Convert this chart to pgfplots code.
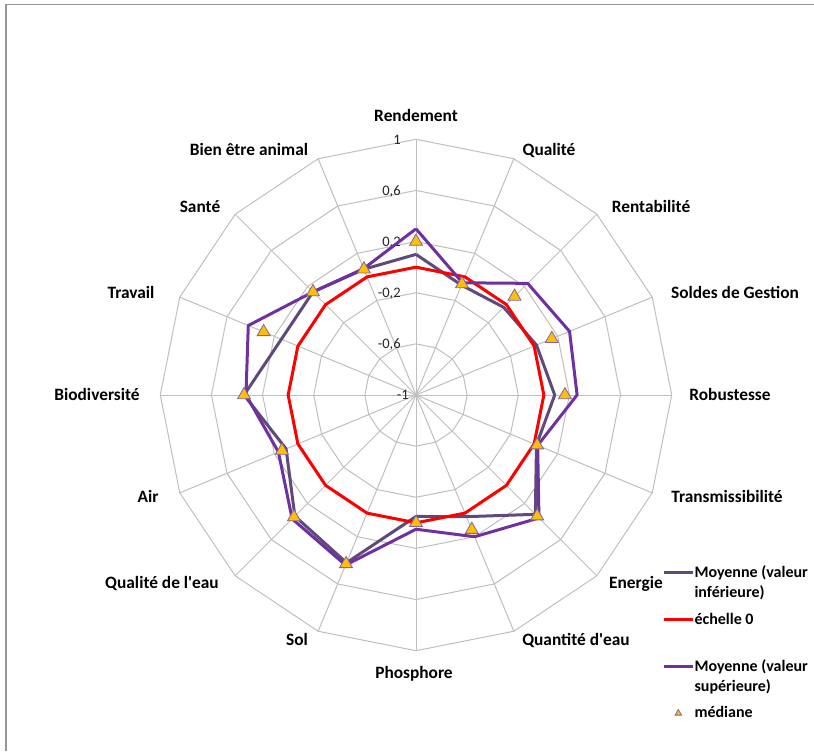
\documentclass[border=0pt]{standalone}
\usepackage{pgfplots}
\pgfplotsset{compat=1.18}
\usepackage{pgfplotstable}
\usepackage{fontspec}
\setmainfont{Carlito}
\definecolor{infc}{HTML}{604A7B}
\definecolor{supc}{HTML}{7030A0}
\definecolor{medf}{HTML}{FFC000}
\definecolor{mede}{HTML}{8064A2}
\definecolor{gridc}{HTML}{BFBFBF}
\definecolor{framec}{HTML}{969696}

\pgfplotsset{
  lineleg/.style={legend image code/.code={\draw[##1] (0pt,7.5pt) -- (21.75pt,7.5pt);}},
  medleg/.style={legend image code/.code={\draw[##1, mark size=2.8pt] plot coordinates {(10.9pt,0pt)};}},
}

% angle (deg), Moyenne inf, echelle 0, Moyenne sup, mediane ; last row closes the polygon
\pgfplotstableread{
a      inf    zero  sup    med
90     0.10   0     0.30   0.20
67.5   -0.07  0     -0.05  -0.06
45     -0.03  0     0.235  0.09
22.5   0.02   0     0.30   0.15
0      0.085  0     0.26   0.165
-22.5  0.02   0     0.03   0.025
-45    0.32   0     0.36   0.34
-67.5  0.03   0     0.20   0.14
-90    -0.05  0     0.05   0.00
-112.5 0.42   0     0.44   0.43
-135   0.34   0     0.37   0.35
-157.5 0.10   0     0.165  0.135
-180   0.345  0     0.33   0.345
-202.5 0.14   0     0.42   0.29
-225   0.14   0     0.14   0.14
-247.5 0.065  0     0.07   0.065
-270   0.10   0     0.30   0.20
}\radar

\begin{document}
\begin{tikzpicture}
\useasboundingbox (0,0) rectangle (610.5pt,563.25pt);
\fill[white] (0,0) rectangle (610.5pt,563.25pt);
\draw[framec, line width=1.1pt] (4.5pt,0pt) -- (4.5pt,559.9pt) -- (612pt,559.9pt);

% polygonal grid
\begin{scope}[shift={(312pt,267pt)}, x=95.8875pt, y=95.8875pt]
\foreach \r in {0.4,0.8,1.2,1.6,2}{
  \draw[gridc, line width=0.75pt, line join=round] (90:\r) \foreach \k in {1,...,15}{ -- ({90-22.5*\k}:\r)} -- cycle;}
\foreach \k in {0,...,15}{\draw[gridc, line width=0.75pt] (0,0) -- ({90-22.5*\k}:2);}
\end{scope}

% radial tick labels
\begin{scope}[every node/.style={anchor=base east, inner sep=0pt, font=\fontsize{10.9}{13}\selectfont, text=black!85}]
\node at (300.75pt,455.2pt) {1};
\node at (300.75pt,416.8pt) {0,6};
\node at (300.75pt,378.5pt) {0,2};
\node at (300.75pt,340.1pt) {-0,2};
\node at (300.75pt,301.8pt) {-0,6};
\node at (306.75pt,263.4pt) {-1};
\end{scope}

% category labels
\begin{scope}[every node/.style={anchor=base, inner sep=0pt, font=\bfseries\fontsize{13}{15.6}\selectfont}]
\node at (312pt,472.05pt) {Rendement};
\node at (411.75pt,446.55pt) {Qualité};
\node at (488.25pt,403.8pt) {Rentabilité};
\node at (551.25pt,339.3pt) {Soldes de Gestion};
\node at (547.5pt,262.8pt) {Robustesse};
\node at (545.25pt,186.3pt) {Transmissibilité};
\node at (477pt,121.8pt) {Energie};
\node at (432pt,79.05pt) {Quantité d\textquotesingle eau};
\node at (310.5pt,54.3pt) {Phosphore};
\node at (222.75pt,79.05pt) {Sol};
\node at (121.5pt,121.8pt) {Qualité de l\textquotesingle eau};
\node at (111pt,186.3pt) {Air};
\node at (72.75pt,262.8pt) {Biodiversité};
\node at (98.25pt,339.3pt) {Travail};
\node at (150pt,403.8pt) {Santé};
\node at (186.75pt,446.55pt) {Bien être animal};
\end{scope}

\begin{axis}[
  at={(0pt,0pt)}, anchor=south west,
  scale only axis, width=610.5pt, height=563.25pt,
  xmin=-3.2538, xmax=3.1130, ymin=-2.7845, ymax=3.0896,
  hide axis, clip=false,
  legend cell align=left,
  legend style={at={(axis cs:1.924,-1.312)}, anchor=north west, draw=none, fill=none,
    inner sep=0pt, font=\bfseries\fontsize{12}{15}\selectfont,
    row sep=6pt, column sep=-1.8pt,
    cells={align=left, inner xsep=0pt, inner ysep=0pt}},
]
\addplot[infc, line width=2.25pt, line join=round, lineleg]
  table[x expr={(\thisrow{inf}+1)*cos(\thisrow{a})}, y expr={(\thisrow{inf}+1)*sin(\thisrow{a})}] {\radar};
\addlegendentry{Moyenne (valeur\\inférieure)}
\addplot[red, line width=2.25pt, line join=round, lineleg]
  table[x expr={(\thisrow{zero}+1)*cos(\thisrow{a})}, y expr={(\thisrow{zero}+1)*sin(\thisrow{a})}] {\radar};
\addlegendentry{échelle 0\\\mbox{}}
\addplot[supc, line width=2.25pt, line join=round, lineleg]
  table[x expr={(\thisrow{sup}+1)*cos(\thisrow{a})}, y expr={(\thisrow{sup}+1)*sin(\thisrow{a})}] {\radar};
\addlegendentry{Moyenne (valeur\\supérieure)}
\addplot[only marks, mark=triangle*, mark size=5.6pt,
  mark options={fill=medf, draw=mede, line width=0.6pt},
  skip coords between index={16}{17}, medleg]
  table[x expr={(\thisrow{med}+1)*cos(\thisrow{a})}, y expr={(\thisrow{med}+1)*sin(\thisrow{a})}] {\radar};
\addlegendentry{médiane}
\end{axis}
\end{tikzpicture}
\end{document}
